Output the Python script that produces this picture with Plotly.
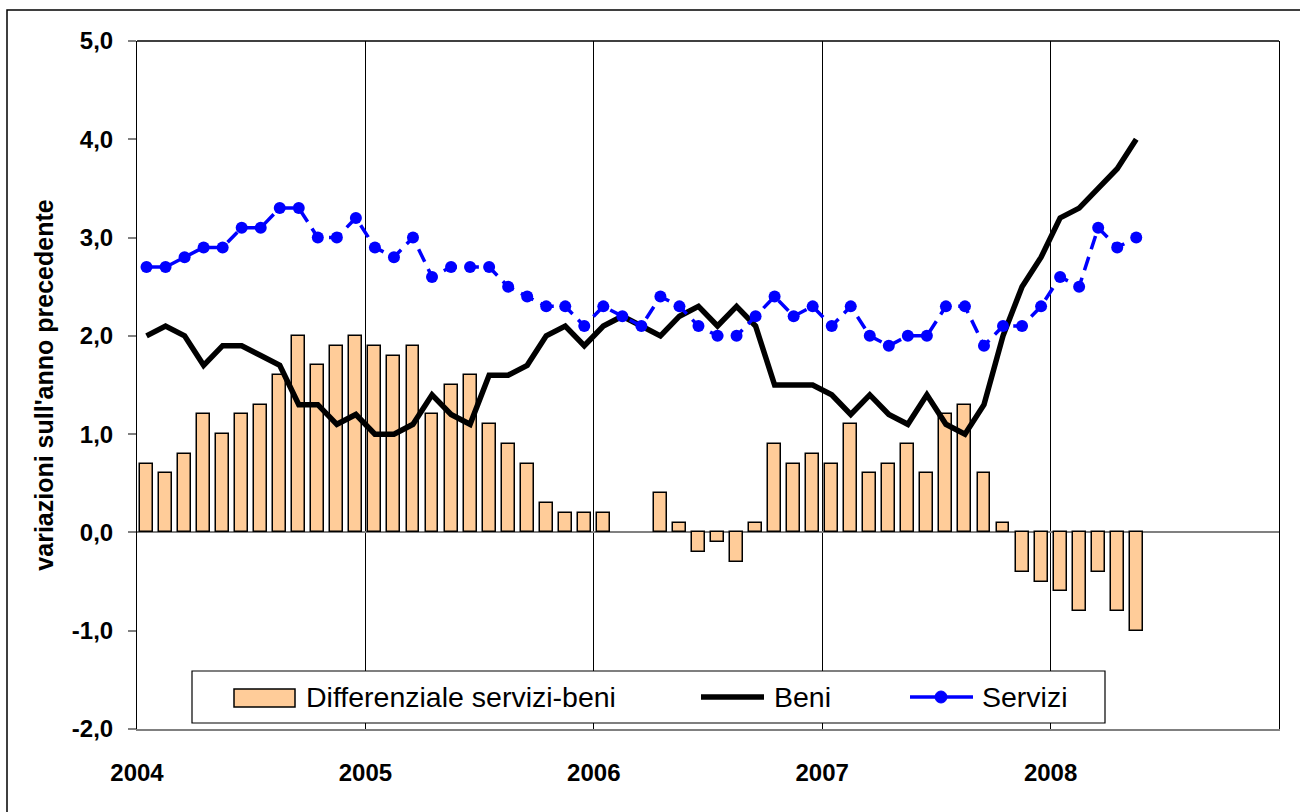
import plotly.graph_objects as go

months = [f"{y}-{m:02d}" for y in range(2004, 2009) for m in range(1, 13)][:53]

beni = [2.0, 2.1, 2.0, 1.7, 1.9, 1.9, 1.8, 1.7, 1.3, 1.3, 1.1, 1.2,
        1.0, 1.0, 1.1, 1.4, 1.2, 1.1, 1.6, 1.6, 1.7, 2.0, 2.1, 1.9,
        2.1, 2.2, 2.1, 2.0, 2.2, 2.3, 2.1, 2.3, 2.1, 1.5, 1.5, 1.5,
        1.4, 1.2, 1.4, 1.2, 1.1, 1.4, 1.1, 1.0, 1.3, 2.0, 2.5, 2.8,
        3.2, 3.3, 3.5, 3.7, 4.0]

servizi = [2.7, 2.7, 2.8, 2.9, 2.9, 3.1, 3.1, 3.3, 3.3, 3.0, 3.0, 3.2,
           2.9, 2.8, 3.0, 2.6, 2.7, 2.7, 2.7, 2.5, 2.4, 2.3, 2.3, 2.1,
           2.3, 2.2, 2.1, 2.4, 2.3, 2.1, 2.0, 2.0, 2.2, 2.4, 2.2, 2.3,
           2.1, 2.3, 2.0, 1.9, 2.0, 2.0, 2.3, 2.3, 1.9, 2.1, 2.1, 2.3,
           2.6, 2.5, 3.1, 2.9, 3.0]

differenziale = [0.7, 0.6, 0.8, 1.2, 1.0, 1.2, 1.3, 1.6, 2.0, 1.7, 1.9, 2.0,
                 1.9, 1.8, 1.9, 1.2, 1.5, 1.6, 1.1, 0.9, 0.7, 0.3, 0.2, 0.2,
                 0.2, 0.0, 0.0, 0.4, 0.1, -0.2, -0.1, -0.3, 0.1, 0.9, 0.7, 0.8,
                 0.7, 1.1, 0.6, 0.7, 0.9, 0.6, 1.2, 1.3, 0.6, 0.1, -0.4, -0.5,
                 -0.6, -0.8, -0.4, -0.8, -1.0]

year_labels = ["2004", "2005", "2006", "2007", "2008"]
y_ticks = [-2, -1, 0, 1, 2, 3, 4, 5]
y_tick_labels = ["-2,0", "-1,0", "0,0", "1,0", "2,0", "3,0", "4,0", "5,0"]
legend_labels = ["Differenziale servizi-beni", "Beni", "Servizi"]

x = [i + 0.5 for i in range(len(months))]
year_pos = [12 * i for i in range(len(year_labels))]

FONT = "Liberation Sans, Arial, sans-serif"
BAR_FILL = "#FFCC99"
BLUE = "#0000FF"

fig = go.Figure()
fig.add_trace(go.Bar(
    x=x, y=differenziale, name=legend_labels[0],
    width=0.68,
    marker=dict(color=BAR_FILL,
                line=dict(color="black", width=[0 if v == 0 else 1.5 for v in differenziale])),
    customdata=months, hovertemplate="%{customdata}: %{y}<extra></extra>",
))
fig.add_trace(go.Scatter(
    x=x, y=beni, name=legend_labels[1], mode="lines",
    line=dict(color="black", width=5.5),
    customdata=months, hovertemplate="%{customdata}: %{y}<extra></extra>",
))
fig.add_trace(go.Scatter(
    x=x, y=servizi, name=legend_labels[2], mode="lines+markers",
    line=dict(color=BLUE, width=3.5, dash="14px,8px"),
    marker=dict(color=BLUE, size=12),
    customdata=months, hovertemplate="%{customdata}: %{y}<extra></extra>",
))

L, R, T, B = 137, 21, 41, 83
W, H = 1300, 812
pw, ph = W - L - R, H - T - B


def px_x(p):
    return (p - L) / pw


def px_y(p):
    return (H - B - p) / ph


fig.update_layout(
    width=W, height=H,
    margin=dict(l=L, r=R, t=T, b=B, pad=0),
    plot_bgcolor="white", paper_bgcolor="white",
    separators=",.",
    font=dict(family=FONT, color="black"),
    bargap=0,
    showlegend=False,
    xaxis=dict(
        range=[0, 60], tickmode="array", tickvals=year_pos, ticktext=year_labels,
        showgrid=True, gridcolor="black", gridwidth=1,
        showline=True, linecolor="#808080", linewidth=2,
        ticks="", ticklabelstandoff=21,
        tickfont=dict(size=24, family=FONT, color="black", weight="bold"),
        zeroline=False, fixedrange=True,
    ),
    yaxis=dict(
        range=[-2, 5], tickmode="array", tickvals=y_ticks, ticktext=y_tick_labels,
        showgrid=False,
        showline=True, linecolor="black", linewidth=1, mirror=True,
        ticks="outside", ticklen=8, tickcolor="#808080", tickwidth=1.5,
        ticklabelstandoff=10,
        tickfont=dict(size=24, family=FONT, color="black", weight="bold"),
        zeroline=True, zerolinecolor="#808080", zerolinewidth=1.5,
        title=dict(text="variazioni sull'anno precedente",
                   font=dict(size=25, family=FONT, color="black", weight="bold"),
                   standoff=11),
        fixedrange=True,
    ),
)

# top border of plot area
fig.add_shape(type="line", xref="paper", yref="paper", x0=0, x1=1, y0=1, y1=1,
              line=dict(color="black", width=1.5))
# outer chart frame
fig.add_shape(type="rect", xref="paper", yref="paper",
              x0=px_x(7), x1=1.2, y0=-0.3, y1=px_y(10),
              line=dict(color="black", width=1.5), fillcolor="rgba(0,0,0,0)")

# legend box (drawn to match the original's wide legend layout)
fig.add_shape(type="rect", xref="paper", yref="paper",
              x0=px_x(192), x1=px_x(1105), y0=px_y(723), y1=px_y(671),
              line=dict(color="black", width=1.2), fillcolor="white", layer="above")
ly = 697
# bar swatch
fig.add_shape(type="rect", xref="paper", yref="paper",
              x0=px_x(234), x1=px_x(295), y0=px_y(707), y1=px_y(689),
              line=dict(color="black", width=1.5), fillcolor=BAR_FILL, layer="above")
# Beni line swatch
fig.add_shape(type="line", xref="paper", yref="paper",
              x0=px_x(701), x1=px_x(764), y0=px_y(ly), y1=px_y(ly),
              line=dict(color="black", width=5.5), layer="above")
# Servizi line + marker swatch
fig.add_shape(type="line", xref="paper", yref="paper",
              x0=px_x(910), x1=px_x(973), y0=px_y(ly), y1=px_y(ly),
              line=dict(color=BLUE, width=3.5), layer="above")
fig.add_shape(type="circle", xref="paper", yref="paper",
              x0=px_x(935), x1=px_x(947), y0=px_y(703), y1=px_y(691),
              line=dict(color=BLUE, width=1), fillcolor=BLUE, layer="above")

for label, left in zip(legend_labels, [304, 772, 980]):
    fig.add_annotation(text=label, xref="paper", yref="paper",
                       x=px_x(left), y=px_y(ly), xanchor="left", yanchor="middle",
                       showarrow=False, font=dict(size=28.5, family=FONT, color="black"))

fig.write_html("out.html", config={"displayModeBar": False},
               post_script="document.body.style.margin='0';")
